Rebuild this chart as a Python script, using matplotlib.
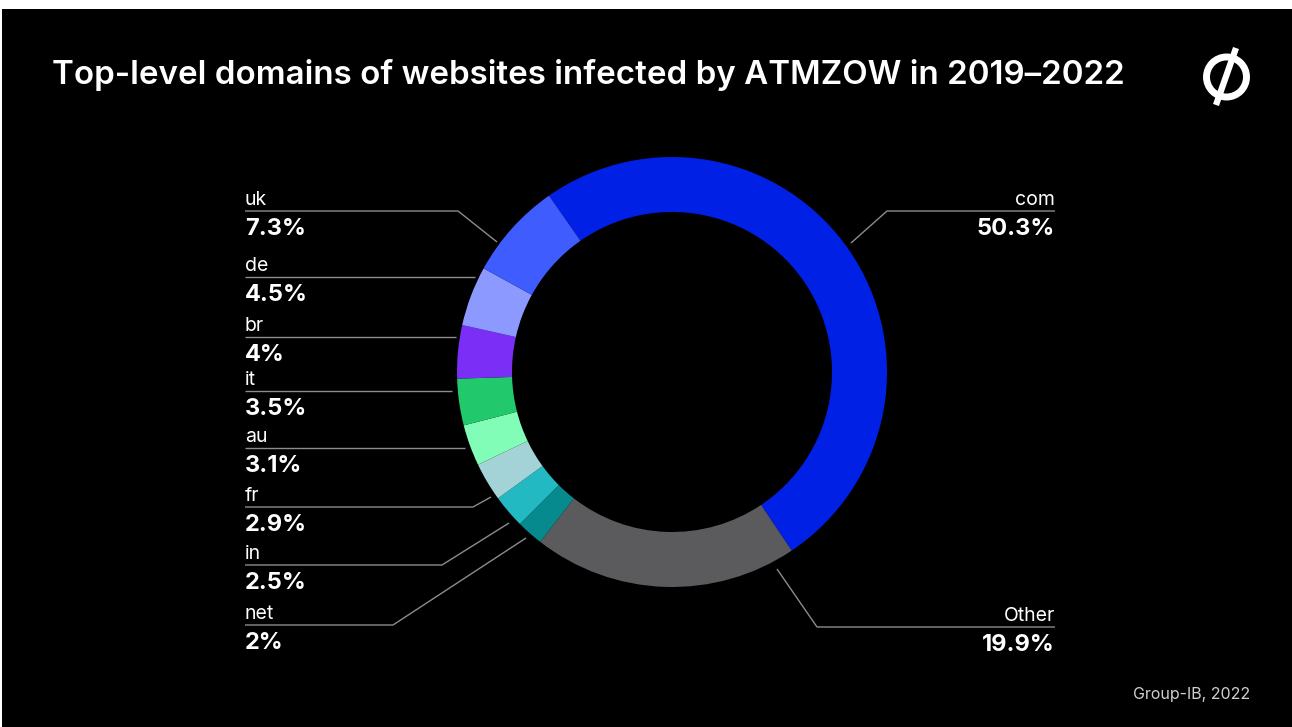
import matplotlib
matplotlib.use("Agg")
import matplotlib.pyplot as plt
from matplotlib.patches import Rectangle, Circle
import numpy as np

# ---- data ----
labels = ["com", "Other", "net", "in", "fr", "au", "it", "br", "de", "uk"]
values = [50.3, 19.9, 2.0, 2.5, 2.9, 3.1, 3.5, 4.0, 4.5, 7.3]
value_text = ["50.3%", "19.9%", "2%", "2.5%", "2.9%", "3.1%", "3.5%", "4%", "4.5%", "7.3%"]
colors = ["#0020E6", "#5B5B5E", "#078A8E", "#22B9C2", "#A3D3D6",
          "#82FDB8", "#22C96C", "#7B2EF5", "#8C9AFF", "#3F5CFF"]

title = "Top-level domains of websites infected by ATMZOW in 2019\u20132022"
source = "Group-IB, 2022"

# ---- layout (pixel coords, y from top) ----
W, H = 1292, 727
cx, cy, R, ring = 672, 372, 215, 55
start_angle = 124.9

# label layout: (side, line_y, horizontal end x, leader end point or None)
layout = {
    "uk":    ("left", 211, 458, (497, 242)),
    "de":    ("left", 277, 475, None),
    "br":    ("left", 337, 456, None),
    "it":    ("left", 391, 452, None),
    "au":    ("left", 448, 465, None),
    "fr":    ("left", 507, 473, (491, 497)),
    "in":    ("left", 565, 442, (509, 523)),
    "net":   ("left", 625, 393, (526, 538)),
    "com":   ("right", 211, 887, (851, 243)),
    "Other": ("right", 627, 817, (777, 569)),
}
left_x, right_x = 245, 1055

plt.rcParams['font.family'] = ['Inter', 'DejaVu Sans']

fig = plt.figure(figsize=(W / 100, H / 100), dpi=100, facecolor="black")
ax = fig.add_axes([0, 0, 1, 1])
ax.set_facecolor("black")

def Y(y):
    return H - y

ax.pie(values, colors=colors, startangle=start_angle, counterclock=False,
       center=(cx, Y(cy)), radius=R, frame=True,
       wedgeprops=dict(width=ring, linewidth=0))

line_col = "#8c8c8c"
for lab, val in zip(labels, value_text):
    side, ly, hx, end = layout[lab]
    xs = [left_x, hx] if side == "left" else [right_x, hx]
    ys = [ly, ly]
    if end is not None:
        xs.append(end[0]); ys.append(end[1])
    ax.plot(xs, [Y(v) for v in ys], color=line_col, lw=1.0, solid_capstyle="butt")
    tx = left_x if side == "left" else right_x
    ha = "left" if side == "left" else "right"
    ax.text(tx, Y(ly - 11), lab, color="white", fontsize=14, fontweight="normal",
            ha=ha, va="center")
    ax.text(tx, Y(ly + 18), val, color="white", fontsize=17, fontweight="bold",
            ha=ha, va="center")

ax.text(52, Y(75), title, color="white", fontsize=23.85, fontweight="semibold",
        ha="left", va="center")
ax.text(1250, Y(694), source, color="#d0d0d0", fontsize=11.5, ha="right", va="center")

# logo
ax.add_patch(Circle((1226.5, Y(77)), 20, facecolor="none", edgecolor="white", lw=5))
ax.plot([1236, 1216], [Y(48), Y(105)], color="white", lw=4.5, solid_capstyle="butt")

ax.set_xlim(0, W)
ax.set_ylim(0, H)
ax.set_aspect("auto")
ax.axis("off")

# white frame edges of the reference screenshot
fig.add_artist(Rectangle((0, 1 - 9 / H), 1, 9 / H, transform=fig.transFigure,
                         facecolor="white", edgecolor="none"))
fig.add_artist(Rectangle((0, 0), 2 / W, 1, transform=fig.transFigure,
                         facecolor="white", edgecolor="none"))

fig.savefig("out.png", dpi=100, facecolor="black")
